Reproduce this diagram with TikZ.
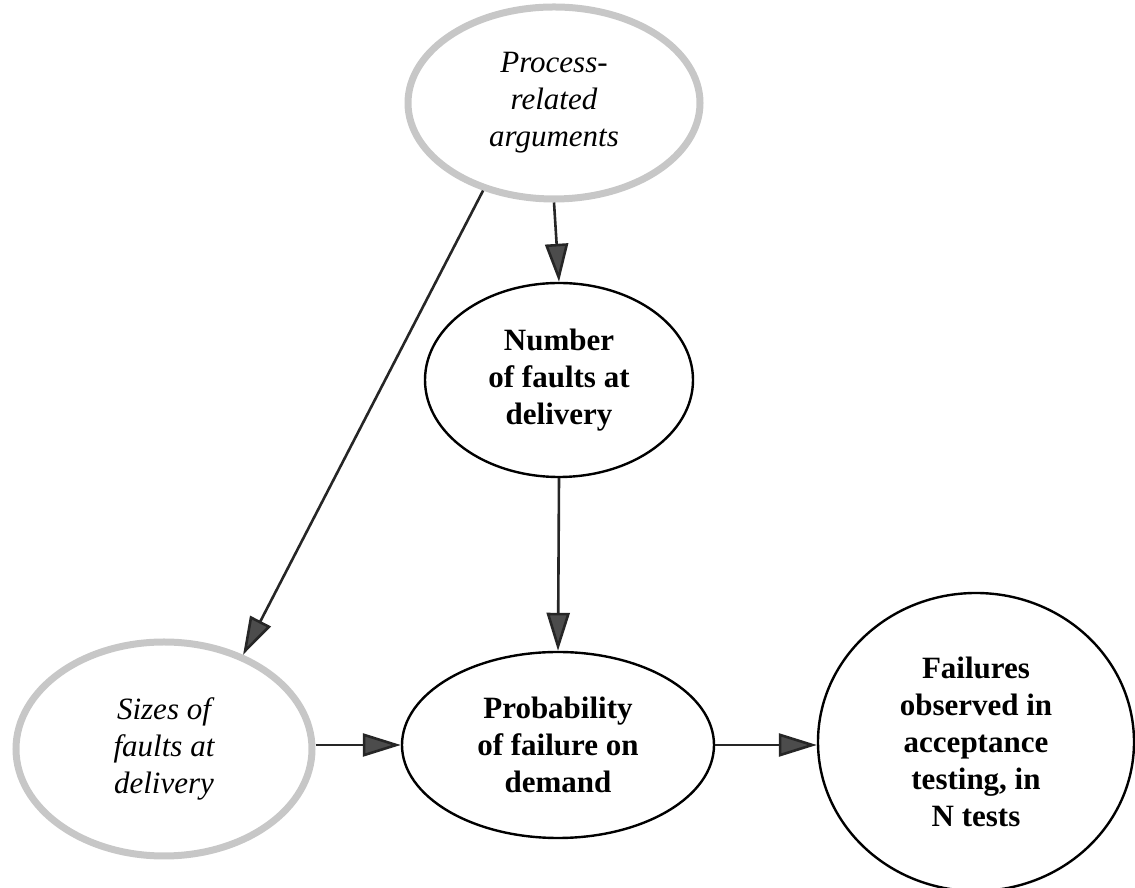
\documentclass[tikz,border=0pt]{standalone}
\usepackage{fontspec}
\setmainfont{Liberation Serif}
\usetikzlibrary{arrows.meta,shapes.geometric}

\begin{document}
\begin{tikzpicture}[x=0.5pt,y=0.5pt,>={Triangle[length=19pt,width=11.5pt,fill=black!70]},
  var/.style={ellipse,align=center,inner sep=0pt},
  soft/.style={var,draw=black!22,line width=3.5pt,font=\fontsize{15.5}{18.5}\selectfont\itshape},
  firm/.style={var,draw=black,line width=1.2pt,font=\fontsize{15.5}{18.5}\selectfont\bfseries},
  link/.style={->,draw=black!85,line width=1.3pt}]
\useasboundingbox (0,0) rectangle (1135,888);

\node[soft,minimum width=146pt,minimum height=96pt] (proc) at (554,785) {Process-\\related\\arguments};
\node[firm,minimum width=134pt,minimum height=97pt] (nfaults) at (559,508) {Number\\of faults at\\delivery};
\node[soft,minimum width=148pt,minimum height=107pt] (sizes) at (164,139) {Sizes of\\faults at\\delivery};
\node[firm,minimum width=156pt,minimum height=93pt] (pfd) at (558,143) {Probability\\of failure on\\demand};
\node[firm,minimum width=158pt,minimum height=149pt] (fails) at (976,146) {Failures\\observed in\\acceptance\\testing, in\\N tests};

\draw[link] (proc.south) -- (nfaults.north);
\draw[link] (nfaults.south) -- (pfd.north);
\draw[link] (proc.231) -- (sizes.50);
\draw[link] (sizes.east |- pfd.west) -- (pfd.west);
\draw[link] (pfd.east) -- (pfd.east -| fails.west);
\end{tikzpicture}
\end{document}
